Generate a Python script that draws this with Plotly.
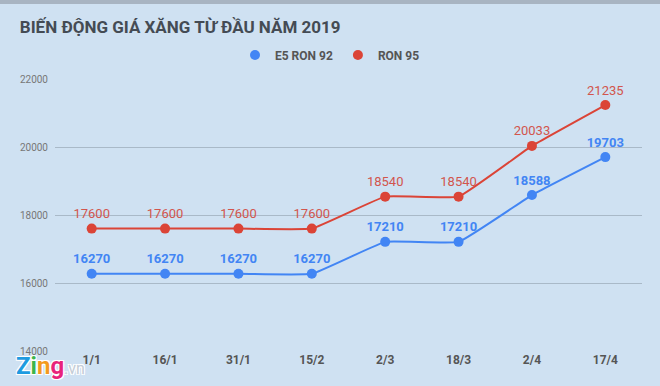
import plotly.graph_objects as go

dates = ["1/1", "16/1", "31/1", "15/2", "2/3", "18/3", "2/4", "17/4"]
e5_ron92 = [16270, 16270, 16270, 16270, 17210, 17210, 18588, 19703]
ron95 = [17600, 17600, 17600, 17600, 18540, 18540, 20033, 21235]
y_ticks = [14000, 16000, 18000, 20000, 22000]
series_names = ["E5 RON 92", "RON 95"]

BLUE = "#4285f4"
RED = "#db4437"
BG = "#cfe1f2"

fig = go.Figure()
for name, vals, col, tcol, bold in [(series_names[0], e5_ron92, BLUE, BLUE, "bold"),
                                    (series_names[1], ron95, RED, "#d2554d", "normal")]:
    fig.add_trace(go.Scatter(
        x=dates, y=vals, name=name, mode="lines+markers+text", showlegend=False,
        line=dict(color=col, width=2, shape="spline", smoothing=0.3),
        marker=dict(size=10, color=col),
        text=[str(v) for v in vals], textposition="top center",
        textfont=dict(family="Roboto", size=13, color=tcol, weight=bold),
        cliponaxis=False,
    ))
for name, col in [(series_names[0], BLUE), (series_names[1], RED)]:
    fig.add_trace(go.Scatter(
        x=[None], y=[None], name=name, mode="markers",
        marker=dict(size=10, color=col), showlegend=True,
    ))

fig.update_layout(
    width=660, height=386,
    paper_bgcolor=BG, plot_bgcolor=BG,
    margin=dict(l=55, r=18, t=79, b=35),
    font=dict(family="Roboto", color="#555"),
    title=dict(text="<b>BIẾN ĐỘNG GIÁ XĂNG TỪ ĐẦU NĂM 2019</b>",
               xref="container", yref="container",
               x=0.03, xanchor="left", y=1 - 27 / 386, yanchor="middle",
               font=dict(family="Roboto", size=17, color="#444b54")),
    legend=dict(orientation="h", x=0.5, xanchor="center", xref="container",
                yref="container", y=1 - 55 / 386, yanchor="middle",
                font=dict(family="Roboto", size=12, color="#555", weight="bold"),
                bgcolor="rgba(0,0,0,0)", traceorder="normal"),
    showlegend=True,
    xaxis=dict(type="category", range=[-0.5, 7.5], showgrid=False, showline=False,
               zeroline=False, ticks="", automargin=False,
               tickfont=dict(family="Roboto", size=12, color="#555", weight="bold")),
    yaxis=dict(range=[14000, 22000], tickvals=y_ticks, ticktext=[str(v) for v in y_ticks],
               showgrid=True, automargin=False,
               gridcolor="#a9b9c8", gridwidth=1, zeroline=False, showline=False,
               ticks="", tickfont=dict(family="Roboto", size=10, color="#777"),
               ticklabelstandoff=6),
    shapes=[dict(type="rect", xref="paper", yref="paper", x0=-0.2, x1=1.1,
                 y0=1.0 + 75 / 272, y1=1.0 + 79 / 272, fillcolor="#a8b4c2",
                 line=dict(width=0), layer="above")],
)

fig.add_annotation(
    xref="paper", yref="paper", x=-0.07, y=-15 / 272, xanchor="left", yanchor="middle",
    showarrow=False,
    text=("<span style='color:#1e9be0'>Z</span><span style='color:#3cb54a'>i</span>"
          "<span style='color:#f39a1e'>n</span><span style='color:#e8237b'>g</span>"
          "<span style='color:#c3ccd6;font-size:16px;font-weight:normal'>.vn</span>"),
    font=dict(family="Roboto", size=24, weight="bold",
              shadow="1px 1px 0 #fff, -1px -1px 0 #fff, 1px -1px 0 #fff, -1px 1px 0 #fff"),
)

fig.write_html("out.html", config={"displayModeBar": False},
               post_script="document.body.style.margin='0';document.body.style.overflow='hidden';")
